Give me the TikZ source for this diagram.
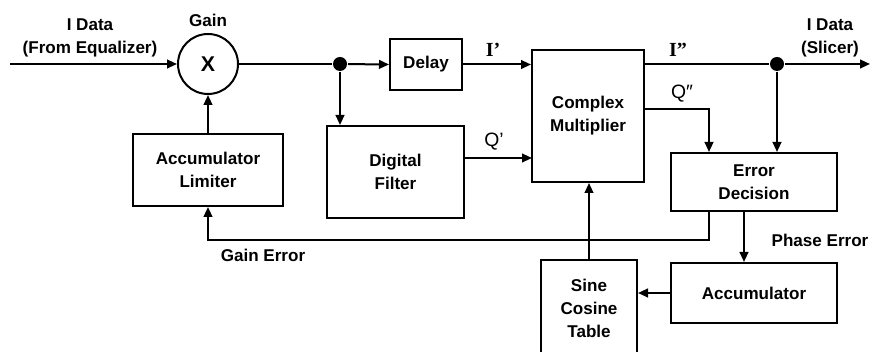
\documentclass[tikz,border=0pt]{standalone}
\usepackage{fontspec}
\setmainfont{Liberation Sans}
\newfontfamily\serifbf{Liberation Serif}
\usetikzlibrary{arrows.meta}

\tikzset{
  block/.style={draw, line width=1.5pt, align=center, inner sep=0pt,
    font=\fontsize{12.8}{17.2}\selectfont\bfseries},
  junction/.style={circle, fill, inner sep=0pt, minimum size=10.5pt},
  lbl/.style={align=center, font=\fontsize{12.8}{17.2}\selectfont\bfseries},
}

\begin{document}
\begin{tikzpicture}[x=0.75pt, y=-0.75pt, line width=1.5pt,
    >={Triangle[length=7.5pt,width=6.5pt]}]
    \useasboundingbox (0,0) rectangle (872,352);

    % Bloques
    \node[draw, circle, line width=1.5pt, minimum size=45pt, inner sep=0pt,
      font=\fontsize{16}{16}\selectfont\bfseries] (mult) at (208,64) {X};
    \node[block, minimum width=54pt, minimum height=38.25pt] (delay) at (426,64.5) {Delay};
    \node[block, minimum width=84pt, minimum height=99pt] (cmult) at (588,116) {Complex\\Multiplier};
    \node[block, minimum width=112.5pt, minimum height=54pt] (acclim) at (208,170) {Accumulator\\Limiter};
    \node[block, minimum width=102.75pt, minimum height=69pt] (dfilt) at (395.5,172) {Digital\\Filter};
    \node[block, minimum width=124.5pt, minimum height=43.5pt] (errdec) at (754,182) {Error\\Decision};
    \node[block, minimum width=124.5pt, minimum height=45pt] (accum) at (754,293) {Accumulator};
    \node[block, minimum width=72pt, minimum height=72pt] (sincos) at (589,308) {Sine\\Cosine\\Table};

    \node[junction] (dotA) at (340,64) {};
    \node[junction] (dotB) at (777,64) {};

    \coordinate (datain) at (10,64);
    \coordinate (dataout) at (870,64);
    \coordinate (qfilt) at (532,158);
    \coordinate (qqout) at (709,109);
    \coordinate (gerr) at (709,240);
    \coordinate (perr) at (744,240);

    % Conexiones
    \draw[->] (datain) -- (mult.west);
    \draw (mult.east) -- (dotA);
    \draw[->] (dotA) -- (delay.west);
    \draw[->] (delay.east) -- (delay.east -| cmult.west);
    \draw (cmult.east |- dotB) -- (dotB);
    \draw[->] (dotB) -- (dataout);
    \draw[->] (dotA) -- (dotA |- dfilt.north);
    \draw[->] (dfilt.east |- qfilt) -- (qfilt);
    \draw[->] (cmult.east |- qqout) -| (errdec.north -| qqout);
    \draw[->] (dotB) -- (dotB |- errdec.north);
    \draw[->] (errdec.south -| gerr) -- (gerr) -| (acclim.south);
    \draw[->] (acclim.north) -- (mult.south);
    \draw[->] (errdec.south -| perr) -- (accum.north -| perr);
    \draw[->] (accum.west) -- (accum.west -| sincos.east);
    \draw[->] (sincos.north) -- (sincos.north |- cmult.south);

    % Etiquetas
    \node[lbl] (inlbl) at (90,38) {I Data\\(From Equalizer)};
    \node[lbl] (gainlbl) at (208,20) {Gain};
    \node[lbl] (outlbl) at (830,38) {I Data\\(Slicer)};
    \node[font=\fontsize{15}{15}\selectfont\serifbf\bfseries] (ilbl) at (493,50) {I’};
    \node[font=\fontsize{15}{15}\selectfont\serifbf\bfseries] (iilbl) at (678,50) {I”};
    \node[font=\fontsize{14.5}{14.5}\selectfont] (qlbl) at (494,142) {Q’};
    \node[font=\fontsize{14.5}{14.5}\selectfont] (qqlbl) at (682,94) {Q″};
    \node[lbl] (gelbl) at (263,255) {Gain Error};
    \node[lbl] (pelbl) at (820,240) {Phase Error};
\end{tikzpicture}
\end{document}
